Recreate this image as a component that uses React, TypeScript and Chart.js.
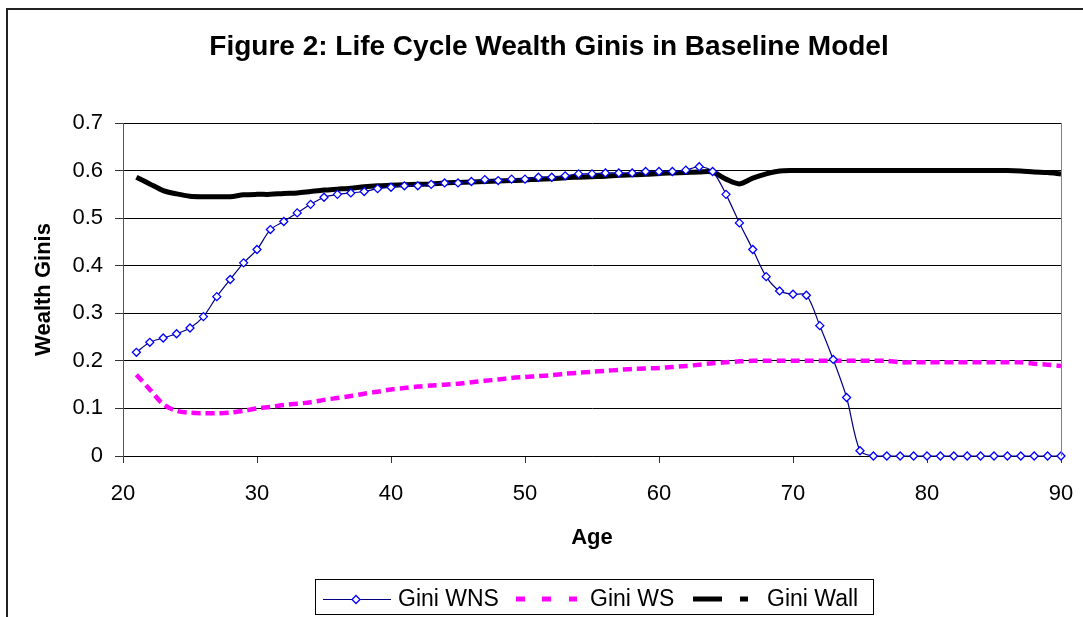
import React, { useEffect, useRef } from "react";
import { Chart, registerables } from "chart.js";

Chart.register(...registerables);

const FONT = "'Liberation Sans', Arial, sans-serif";

const titleText = "Figure 2: Life Cycle Wealth Ginis in Baseline Model";
const xAxisTitle = "Age";
const yAxisTitle = "Wealth Ginis";

const ages = [
  21, 22, 23, 24, 25, 26, 27, 28, 29, 30,
  31, 32, 33, 34, 35, 36, 37, 38, 39, 40,
  41, 42, 43, 44, 45, 46, 47, 48, 49, 50,
  51, 52, 53, 54, 55, 56, 57, 58, 59, 60,
  61, 62, 63, 64, 65, 66, 67, 68, 69, 70,
  71, 72, 73, 74, 75, 76, 77, 78, 79, 80,
  81, 82, 83, 84, 85, 86, 87, 88, 89, 90,
];

const giniWNS = [
  0.218, 0.239, 0.248, 0.257, 0.269, 0.293, 0.335, 0.371, 0.406, 0.434,
  0.476, 0.493, 0.511, 0.529, 0.544, 0.55, 0.553, 0.556, 0.562, 0.565,
  0.568, 0.568, 0.571, 0.574, 0.574, 0.577, 0.581, 0.579, 0.582, 0.582,
  0.586, 0.586, 0.589, 0.593, 0.593, 0.595, 0.595, 0.595, 0.598, 0.598,
  0.598, 0.601, 0.608, 0.598, 0.55, 0.49, 0.434, 0.377, 0.347, 0.34,
  0.338, 0.274, 0.203, 0.123, 0.011, 0, 0, 0, 0, 0,
  0, 0, 0, 0, 0, 0, 0, 0, 0, 0,
];

const giniWS = [
  0.171, 0.14, 0.109, 0.095, 0.091, 0.09, 0.09, 0.091, 0.095, 0.1,
  0.103, 0.107, 0.11, 0.113, 0.118, 0.122, 0.126, 0.131, 0.135, 0.14,
  0.143, 0.146, 0.148, 0.15, 0.152, 0.155, 0.158, 0.161, 0.164, 0.166,
  0.168, 0.17, 0.173, 0.175, 0.177, 0.179, 0.181, 0.183, 0.184, 0.185,
  0.187, 0.189, 0.192, 0.195, 0.197, 0.199, 0.2, 0.2, 0.2, 0.2,
  0.2, 0.2, 0.2, 0.2, 0.2, 0.2, 0.2, 0.197, 0.197, 0.197,
  0.197, 0.197, 0.197, 0.197, 0.197, 0.197, 0.197, 0.194, 0.192, 0.189,
];

const giniWall = [
  0.586, 0.572, 0.558, 0.551, 0.546, 0.545, 0.545, 0.545, 0.549, 0.55,
  0.55, 0.552, 0.553, 0.556, 0.559, 0.561, 0.563, 0.566, 0.568, 0.569,
  0.57, 0.571, 0.572, 0.574, 0.575, 0.576, 0.577, 0.578, 0.579, 0.58,
  0.582, 0.583, 0.585, 0.586, 0.587, 0.588, 0.59, 0.591, 0.592, 0.594,
  0.595, 0.596, 0.597, 0.597, 0.582, 0.572, 0.584, 0.593, 0.599, 0.6,
  0.6, 0.6, 0.6, 0.6, 0.6, 0.6, 0.6, 0.6, 0.6, 0.6,
  0.6, 0.6, 0.6, 0.6, 0.6, 0.6, 0.599, 0.597, 0.596, 0.593,
];

const xTickLabels = ["20", "30", "40", "50", "60", "70", "80", "90"];
const yTickLabels = ["0", "0.1", "0.2", "0.3", "0.4", "0.5", "0.6", "0.7"];

const seriesNames = ["Gini WNS", "Gini WS", "Gini Wall"];

const W = 1083;
const H = 617;

const toPoints = (ys: number[]) => ages.map((a, i) => ({ x: a, y: ys[i] }));

const decorPlugin = {
  id: "decor",
  beforeDraw(chart: any) {
    const ctx = chart.ctx;
    ctx.save();
    ctx.fillStyle = "#ffffff";
    ctx.fillRect(0, 0, chart.width, chart.height);
    ctx.strokeStyle = "#222222";
    ctx.lineWidth = 2;
    ctx.beginPath();
    ctx.moveTo(7, chart.height + 5);
    ctx.lineTo(7, 9);
    ctx.lineTo(chart.width + 5, 9);
    ctx.stroke();
    ctx.restore();
  },
  afterDraw(chart: any) {
    const ctx = chart.ctx;
    const area = chart.chartArea;
    ctx.save();
    // right border of plot area
    ctx.strokeStyle = "#808080";
    ctx.lineWidth = 1;
    ctx.beginPath();
    ctx.moveTo(Math.round(area.right) + 0.5, area.top);
    ctx.lineTo(Math.round(area.right) + 0.5, area.bottom);
    ctx.stroke();

    ctx.fillStyle = "#000000";
    // title
    ctx.font = `bold 28px ${FONT}`;
    ctx.textAlign = "center";
    ctx.textBaseline = "middle";
    ctx.fillText(titleText, 549, 47);

    // axis titles
    ctx.font = `bold 22px ${FONT}`;
    ctx.fillText(xAxisTitle, 592, 538);
    ctx.save();
    ctx.translate(44, (area.top + area.bottom) / 2);
    ctx.rotate(-Math.PI / 2);
    ctx.fillText(yAxisTitle, 0, 0);
    ctx.restore();

    // legend
    const ly = 599;
    ctx.strokeStyle = "#000000";
    ctx.lineWidth = 1;
    ctx.strokeRect(315.5, 579.5, 558, 35);

    ctx.strokeStyle = "#000080";
    ctx.lineWidth = 1.2;
    ctx.beginPath();
    ctx.moveTo(323, ly + 0.5);
    ctx.lineTo(391, ly + 0.5);
    ctx.stroke();
    ctx.fillStyle = "#ffffff";
    ctx.strokeStyle = "#0000ff";
    ctx.lineWidth = 1.3;
    ctx.beginPath();
    ctx.moveTo(356, ly + 0.5 - 4);
    ctx.lineTo(360, ly + 0.5);
    ctx.lineTo(356, ly + 0.5 + 4);
    ctx.lineTo(352, ly + 0.5);
    ctx.closePath();
    ctx.fill();
    ctx.stroke();

    ctx.fillStyle = "#ff00ff";
    ctx.fillRect(516, ly - 2.5, 9, 5);
    ctx.fillRect(542, ly - 2.5, 9, 5);
    ctx.fillRect(569, ly - 2.5, 8, 5);

    ctx.fillStyle = "#000000";
    ctx.fillRect(693, ly - 2.5, 29, 5);
    ctx.fillRect(740, ly - 2.5, 8, 5);

    ctx.font = `23px ${FONT}`;
    ctx.textAlign = "left";
    ctx.textBaseline = "middle";
    ctx.fillText(seriesNames[0], 398, ly + 1);
    ctx.fillText(seriesNames[1], 590, ly + 1);
    ctx.fillText(seriesNames[2], 767, ly + 1);

    ctx.restore();
  },
};

export default function App() {
  const canvasRef = useRef<HTMLCanvasElement | null>(null);

  useEffect(() => {
    const canvas = canvasRef.current;
    if (!canvas) return;
    const chart = new Chart(canvas, {
      type: "line",
      data: {
        datasets: [
          {
            label: seriesNames[0],
            data: toPoints(giniWNS),
            borderColor: "#000080",
            borderWidth: 1.2,
            pointStyle: "rectRot",
            pointRadius: 4,
            pointBorderColor: "#0000ff",
            pointBackgroundColor: "#ffffff",
            pointBorderWidth: 1.3,
            tension: 0.3,
            clip: false as any,
          },
          {
            label: seriesNames[1],
            data: toPoints(giniWS),
            borderColor: "#ff00ff",
            borderWidth: 4.5,
            borderDash: [9, 5],
            borderCapStyle: "butt",
            pointRadius: 0,
            tension: 0.3,
          },
          {
            label: seriesNames[2],
            data: toPoints(giniWall),
            borderColor: "#000000",
            borderWidth: 5,
            pointRadius: 0,
            tension: 0.3,
          },
        ],
      },
      options: {
        responsive: false,
        animation: false,
        devicePixelRatio: 1,
        layout: { padding: { top: 123, right: W - 1061, bottom: 0, left: 0 } },
        plugins: {
          legend: { display: false },
          title: { display: false },
          tooltip: { enabled: false },
        },
        events: [],
        scales: {
          x: {
            type: "linear",
            min: 20,
            max: 90,
            afterFit: (s: any) => {
              s.height = H - 456;
              s.paddingLeft = 0;
              s.paddingRight = 0;
            },
            afterBuildTicks: (s: any) => {
              s.ticks = xTickLabels.map((t) => ({ value: Number(t) }));
            },
            ticks: {
              callback: (v: any) => String(v),
              font: { family: FONT, size: 22 },
              color: "#000000",
              padding: 18,
              maxRotation: 0,
              autoSkip: false,
            },
            grid: {
              drawOnChartArea: false,
              drawTicks: true,
              tickLength: 7,
              tickColor: "#333333",
            },
            border: { display: true, color: "#000000", width: 1 },
          },
          y: {
            type: "linear",
            min: 0,
            max: 0.7,
            afterFit: (s: any) => {
              s.width = 123;
              s.paddingTop = 0;
              s.paddingBottom = 0;
            },
            afterBuildTicks: (s: any) => {
              s.ticks = yTickLabels.map((t) => ({ value: Number(t) }));
            },
            ticks: {
              callback: (v: any) => String(Math.round(Number(v) * 10) / 10),
              font: { family: FONT, size: 22 },
              color: "#000000",
              padding: 12,
              autoSkip: false,
            },
            grid: {
              color: "#000000",
              lineWidth: 1,
              drawTicks: true,
              tickLength: 8,
              tickColor: "#333333",
            },
            border: { display: true, color: "#555555", width: 1 },
          },
        },
      } as any,
      plugins: [decorPlugin],
    });
    return () => chart.destroy();
  }, []);

  return (
    <div style={{ position: "absolute", left: 0, top: 0, width: W, height: H, background: "#fff" }}>
      <canvas ref={canvasRef} width={W} height={H} style={{ display: "block", width: W, height: H }} />
    </div>
  );
}
